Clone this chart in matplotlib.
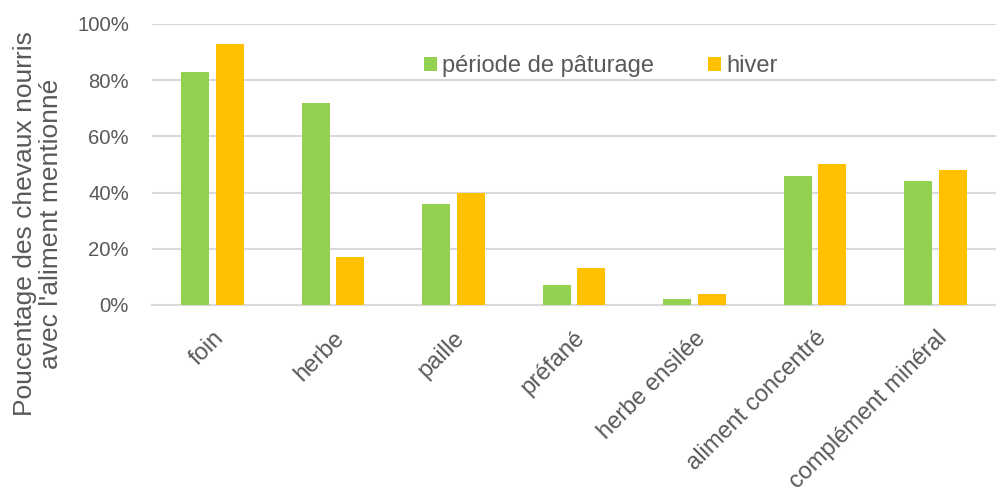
import matplotlib
matplotlib.use("Agg")
import matplotlib.pyplot as plt
import numpy as np
from matplotlib.ticker import PercentFormatter

categories = ["foin", "herbe", "paille", "préfané", "herbe ensilée",
              "aliment concentré", "complément minéral"]
paturage = [83, 72, 36, 7, 2, 46, 44]
hiver = [93, 17, 40, 13, 4, 50, 48]
series_labels = ["période de pâturage", "hiver"]
yticks = [0, 20, 40, 60, 80, 100]

plt.rcParams['font.family'] = ['Liberation Sans', 'DejaVu Sans']
gray = '#595959'

fig = plt.figure(figsize=(9.96, 4.88), dpi=100)
ax = fig.add_axes([0.1526, 0.375, 0.8474, 0.576])

x = np.arange(len(categories))
w = 0.232
off = 0.143
ax.bar(x - off, paturage, w, color='#92D050', label=series_labels[0], zorder=3)
ax.bar(x + off, hiver, w, color='#FFC000', label=series_labels[1], zorder=3)

ax.set_xlim(-0.5, len(categories) - 0.5)
ax.set_ylim(0, 100)
ax.set_yticks(yticks)
ax.yaxis.set_major_formatter(PercentFormatter(decimals=0))
ax.grid(axis='y', color='#D9D9D9', linewidth=1.5, zorder=0)
for s in ['top', 'right', 'left']:
    ax.spines[s].set_visible(False)
ax.spines['bottom'].set_color('#D9D9D9')
ax.spines['bottom'].set_linewidth(1.5)
ax.tick_params(axis='y', length=0, pad=16.5, labelsize=14.6, labelcolor=gray)
ax.tick_params(axis='x', length=0, pad=16, labelsize=17, labelcolor=gray)
ax.set_xticks(x)
ax.set_xticklabels(categories, rotation=45, ha='right', rotation_mode='anchor')

fig.text(38 / 996, 1 - 224 / 488,
         "Poucentage des chevaux nourris\navec l'aliment mentionné",
         fontsize=19, color=gray, rotation=90, ha='center', va='center',
         linespacing=1.15, multialignment='center')

leg = ax.legend(loc='center', bbox_to_anchor=(0.532, 0.85), ncol=2, frameon=False,
                fontsize=17, handlelength=0.55, handleheight=0.55, handletextpad=0.2,
                columnspacing=2.3)
for t in leg.get_texts():
    t.set_color(gray)

fig.savefig("out.png", dpi=100)
